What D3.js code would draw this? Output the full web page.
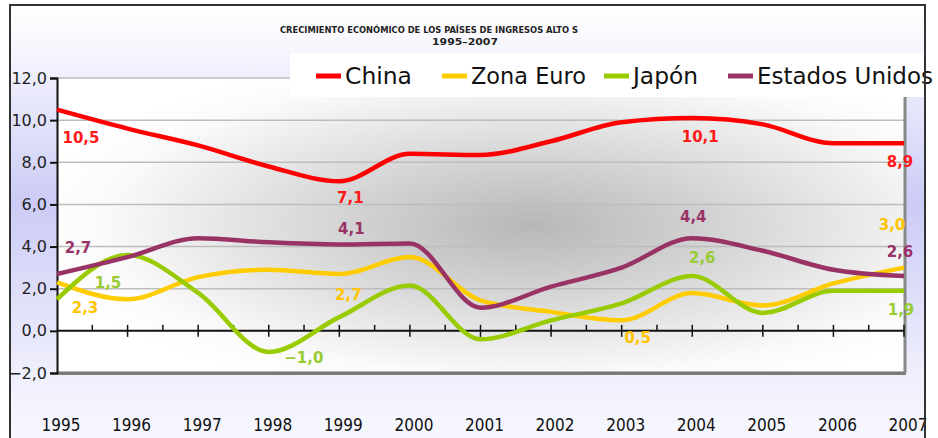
<!DOCTYPE html>
<html>
<head>
<meta charset="utf-8">
<script src="https://cdn.jsdelivr.net/npm/d3@7"></script>
<style>
  body { margin: 0; background: #fff; }
  svg { display: block; }
</style>
</head>
<body>
<svg width="938" height="438"></svg>
<script>
const years = [1995, 1996, 1997, 1998, 1999, 2000, 2001, 2002, 2003, 2004, 2005, 2006, 2007];
const china = [10.5, 9.6, 8.8, 7.8, 7.1, 8.4, 8.35, 9.0, 9.9, 10.1, 9.8, 8.9, 8.9];
const zonaEuro = [2.3, 1.5, 2.55, 2.9, 2.7, 3.5, 1.45, 0.9, 0.5, 1.8, 1.2, 2.25, 3.0];
const japon = [1.5, 3.6, 1.8, -1.0, 0.65, 2.15, -0.4, 0.5, 1.3, 2.6, 0.85, 1.9, 1.9];
const estadosUnidos = [2.7, 3.5, 4.4, 4.2, 4.1, 4.15, 1.1, 2.1, 3.0, 4.4, 3.8, 2.9, 2.6];
const yTicks = [-2, 0, 2, 4, 6, 8, 10, 12];
const seriesNames = ['China', 'Zona Euro', 'Japón', 'Estados Unidos'];
const titleLines = ['CRECIMIENTO ECONÓMICO DE LOS PAÍSES DE INGRESOS ALTO S', '1995–2007'];

const colors = ['#ff0000', '#ffcc00', '#99cc00', '#993366'];
const labelColors = ['#ff1a1a', '#ffc400', '#99cc33', '#993366'];

// which points get a value label, and where the label sits
const labelled = [
  [[0, 24, 33], [4, 11, 22], [9, 8, 24], [12, -4, 24]],
  [[0, 28, 31], [4, 9, 26], [8, 16, 23], [12, -12, -38]],
  [[0, 51, -11], [3, 35, 11], [9, 10, -13], [12, -3, 24]],
  [[0, 21, -21], [4, 12, -10], [9, 1, -16], [12, -4, -19]]
];

const allSeries = [china, zonaEuro, japon, estadosUnidos];

const svg = d3.select('svg');
const defs = svg.append('defs');

const outer = defs.append('linearGradient').attr('id', 'outerGrad')
    .attr('x1', 0).attr('y1', 0).attr('x2', 0).attr('y2', 1);
outer.append('stop').attr('offset', 0).attr('stop-color', '#ffffff');
outer.append('stop').attr('offset', 0.1).attr('stop-color', '#f6f6fe');
outer.append('stop').attr('offset', 0.45).attr('stop-color', '#cbcbf6');
outer.append('stop').attr('offset', 0.85).attr('stop-color', '#f0f0fd');
outer.append('stop').attr('offset', 1).attr('stop-color', '#f8f8ff');

const inner = defs.append('radialGradient').attr('id', 'plotGrad')
    .attr('cx', 0.56).attr('cy', 0.5).attr('r', 0.6);
inner.append('stop').attr('offset', 0).attr('stop-color', '#b7b7b7');
inner.append('stop').attr('offset', 0.45).attr('stop-color', '#dadada');
inner.append('stop').attr('offset', 0.85).attr('stop-color', '#fafafa');
inner.append('stop').attr('offset', 1).attr('stop-color', '#ffffff');

const x = d3.scaleLinear().domain([1995, 2007]).range([57, 904]);
const y = d3.scaleLinear().domain([-2, 12]).range([373, 78]);

// outer frame
svg.append('rect').attr('x', 10).attr('y', 5).attr('width', 915).attr('height', 440)
    .attr('fill', 'url(#outerGrad)').attr('stroke', '#333').attr('stroke-width', 2);

// plot background
svg.append('rect').attr('x', 59).attr('y', 80).attr('width', 847).attr('height', 295)
    .attr('fill', '#8a8a8a');
svg.append('rect').attr('x', x(1995)).attr('y', y(12)).attr('width', x(2007) - x(1995))
    .attr('height', y(-2) - y(12)).attr('fill', 'url(#plotGrad)');

// gridlines
svg.append('g').selectAll('line').data(yTicks.filter(d => d !== 0 && d !== -2)).join('line')
    .attr('x1', x(1995)).attr('x2', x(2007))
    .attr('y1', d => y(d)).attr('y2', d => y(d))
    .attr('stroke', '#bdbdbd').attr('stroke-width', 1.5);
svg.append('line').attr('x1', x(1995)).attr('x2', x(2007) + 2)
    .attr('y1', y(-2)).attr('y2', y(-2)).attr('stroke', '#777').attr('stroke-width', 3);
svg.append('line').attr('x1', x(2007) + 1).attr('x2', x(2007) + 1)
    .attr('y1', y(12)).attr('y2', y(-2)).attr('stroke', '#888').attr('stroke-width', 3);

// y axis
const yAxis = d3.axisLeft(y).tickValues(yTicks).tickSize(7).tickPadding(3)
    .tickFormat(d => d3.format('.1f')(d).replace('.', ',').replace('-', '–'));
const gy = svg.append('g').attr('transform', `translate(${x(1995)},0)`).call(yAxis);
gy.select('.domain').attr('stroke', '#111').attr('stroke-width', 2);
gy.selectAll('.tick line').attr('stroke', '#111').attr('stroke-width', 2);
gy.selectAll('text').attr('font-family', 'DejaVu Sans').attr('font-size', 16).attr('fill', '#222');

// zero axis with ticks
const halfYears = d3.range(1995, 2007.01, 0.5);
const gx = svg.append('g');
gx.append('line').attr('x1', x(1995)).attr('x2', x(2007)).attr('y1', y(0)).attr('y2', y(0))
    .attr('stroke', '#111').attr('stroke-width', 2);
gx.selectAll('line.t').data(halfYears.slice(1)).join('line').attr('class', 't')
    .attr('x1', d => x(d)).attr('x2', d => x(d))
    .attr('y1', d => y(0) - 6).attr('y2', d => Number.isInteger(d) ? y(0) + 6 : y(0))
    .attr('stroke', '#111').attr('stroke-width', 1.5);

// x labels
svg.append('g').selectAll('text').data(years).join('text')
    .attr('x', d => x(d) + 4).attr('y', 431)
    .attr('text-anchor', 'middle')
    .attr('font-family', 'DejaVu Sans Condensed, DejaVu Sans').attr('font-size', 17)
    .attr('fill', '#111').text(d => d);

// lines
const line = d3.line().x((d, i) => x(years[i])).y(d => y(d)).curve(d3.curveMonotoneX);
svg.append('g').selectAll('path').data(allSeries).join('path')
    .attr('d', line).attr('fill', 'none')
    .attr('stroke', (d, i) => colors[i]).attr('stroke-width', 4.5)
    .attr('stroke-linejoin', 'round');

// value labels
const fmt = v => d3.format('.1f')(v).replace('.', ',').replace('-', '–');
allSeries.forEach((s, si) => {
  svg.append('g').selectAll('text').data(labelled[si]).join('text')
      .attr('x', d => x(years[d[0]]) + d[1])
      .attr('y', d => y(s[d[0]]) + d[2])
      .attr('text-anchor', 'middle')
      .attr('font-family', 'DejaVu Sans').attr('font-weight', 'bold').attr('font-size', 15)
      .attr('fill', labelColors[si])
      .text(d => fmt(s[d[0]]));
});

// legend
svg.append('rect').attr('x', 290).attr('y', 53).attr('width', 648).attr('height', 44)
    .attr('fill', '#fff');
const legendX = [316, 442, 604, 728];
const legendW = [67, 115, 65, 176];
const lg = svg.append('g').selectAll('g').data(seriesNames).join('g')
    .attr('transform', (d, i) => `translate(${legendX[i]},76)`);
lg.append('line').attr('x1', 0).attr('x2', 25).attr('y1', 0).attr('y2', 0)
    .attr('stroke', (d, i) => colors[i]).attr('stroke-width', 5);
lg.append('text').attr('x', 29).attr('y', 8)
    .attr('font-family', 'DejaVu Sans').attr('font-size', 23).attr('fill', '#111')
    .attr('textLength', (d, i) => legendW[i]).attr('lengthAdjust', 'spacingAndGlyphs')
    .text(d => d);
svg.append('line').attr('x1', 925).attr('x2', 925).attr('y1', 5).attr('y2', 438)
    .attr('stroke', '#333').attr('stroke-width', 2);

// title
svg.append('g').selectAll('text').data(titleLines).join('text')
    .attr('x', (d, i) => i === 0 ? 429 : 465).attr('y', (d, i) => 33 + i * 12)
    .attr('text-anchor', 'middle')
    .attr('font-family', 'DejaVu Sans Condensed, DejaVu Sans').attr('font-weight', 'bold')
    .attr('font-size', 9).attr('fill', '#222')
    .attr('textLength', (d, i) => i === 0 ? 298 : 66).attr('lengthAdjust', 'spacingAndGlyphs')
    .text(d => d);
</script>
</body>
</html>
